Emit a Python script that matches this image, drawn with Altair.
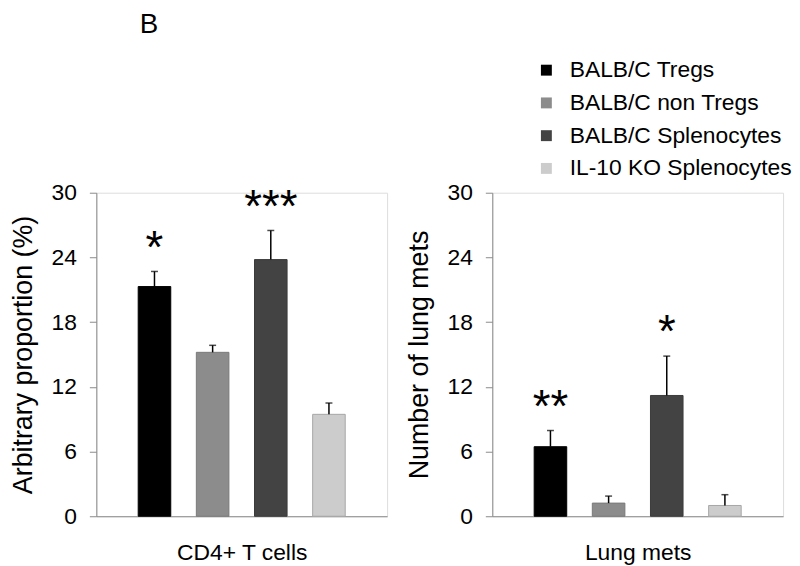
import altair as alt
import pandas as pd

groups = ["BALB/C Tregs", "BALB/C non Tregs", "BALB/C Splenocytes", "IL-10 KO Splenocytes"]
fill_colors = ["#000000", "#8c8c8c", "#434343", "#cccccc"]
edge_colors = ["#000000", "#7a7a7a", "#3a3a3a", "#a6a6a6"]

cd4_mean = [21.3, 15.2, 23.8, 9.45]
cd4_err = [1.4, 0.65, 2.7, 1.05]
cd4_sig = ["*", "", "***", ""]

lung_mean = [6.45, 1.22, 11.2, 1.0]
lung_err = [1.5, 0.65, 3.65, 1.0]
lung_sig = ["**", "", "*", ""]

y_ticks = [0, 6, 12, 18, 24, 30]

FONT = "Liberation Sans"
AX = "#8a8a8a"


def panel(mean, err, sig, xtitle, ytitle, title_pad, show_b=False):
    df = pd.DataFrame({"group": groups, "mean": mean, "err": err, "sig": sig})
    base = alt.Chart(df).transform_calculate(top="datum.mean + datum.err")
    x_axis = alt.Axis(title=xtitle, labels=False, ticks=False, domainColor=AX,
                      titleFontSize=23, titleFontWeight="normal", titleColor="#000",
                      titlePadding=26, titleFont=FONT)
    x_scale = alt.Scale(paddingInner=0.44, paddingOuter=0.72)
    y_axis = alt.Axis(title=ytitle, values=y_ticks, grid=False, domainColor=AX,
                      tickColor=AX, tickSize=7, labelFontSize=23, labelPadding=13,
                      labelColor="#000", labelFont=FONT, titleFont=FONT,
                      titleFontSize=27, titleFontWeight="normal", titleColor="#000",
                      titlePadding=title_pad)
    y_scale = alt.Scale(domain=[0, 30], nice=False)

    def xe():
        return alt.X("group:N", sort=groups, scale=x_scale, axis=x_axis)

    def ye(field):
        return alt.Y(field, scale=y_scale, axis=y_axis)

    bars = base.mark_bar(strokeWidth=1).encode(
        x=xe(), y=ye("mean:Q"),
        color=alt.Color("group:N", sort=groups,
                        scale=alt.Scale(domain=groups, range=fill_colors),
                        legend=alt.Legend(orient="none", legendX=442, legendY=-135,
                                          title=None, symbolType="square",
                                          symbolSize=121, symbolStrokeWidth=0,
                                          labelFontSize=23, labelFont=FONT,
                                          labelColor="#000", rowPadding=9,
                                          labelOffset=12, labelLimit=0)),
        stroke=alt.Stroke("group:N", scale=alt.Scale(domain=groups, range=edge_colors),
                          legend=None),
    )
    rule = base.mark_rule(color="#000", strokeWidth=1.5).encode(
        x=xe(), y=ye("mean:Q"), y2="top:Q")
    cap = base.mark_tick(color="#000", size=7, thickness=1.5).encode(
        x=xe(), y=ye("top:Q"))
    stars = base.mark_text(fontSize=46, dy=-23, font=FONT, color="#000").encode(
        x=xe(), y=ye("top:Q"), text="sig:N")
    layers = [bars, rule, cap, stars]
    if show_b:
        bdf = pd.DataFrame({"lab": ["B"]})
        btxt = alt.Chart(bdf).mark_text(fontSize=28, font=FONT, color="#000",
                                        baseline="alphabetic").encode(
            x=alt.value(53), y=alt.value(-161), text="lab:N")
        layers.append(btxt)
    return alt.layer(*layers).properties(width=293, height=326)


left = panel(cd4_mean, cd4_err, cd4_sig, "CD4+ T cells", "Arbitrary proportion (%)", 14, True)
right = panel(lung_mean, lung_err, lung_sig, "Lung mets", "Number of lung mets", 14)

chart = alt.hconcat(left, right, spacing=16).properties(
    padding={"left": 0, "top": 0, "right": 0, "bottom": 0}
).configure_view(stroke=None).configure(font=FONT)

chart.save("out.html", embed_options={"renderer": "svg", "actions": False})
